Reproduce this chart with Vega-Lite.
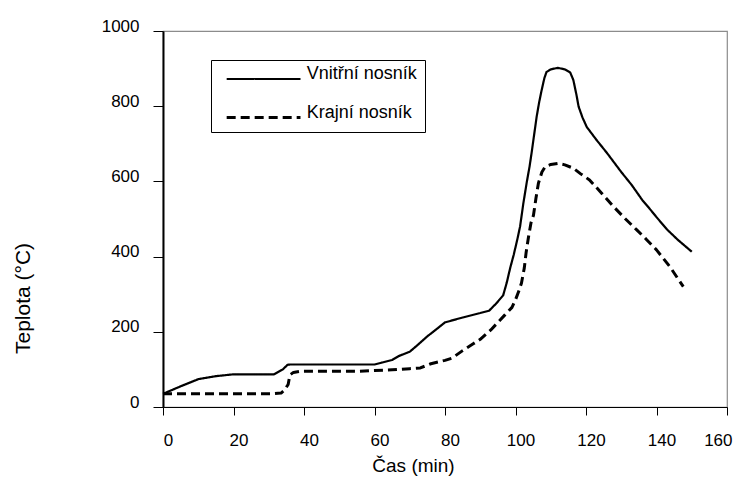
{
  "$schema": "https://vega.github.io/schema/vega-lite/v6.json",
  "width": 564,
  "height": 376,
  "autosize": {"type": "none"},
  "padding": {"left": 163, "top": 31, "right": 12, "bottom": 77},
  "background": "white",
  "config": {
    "font": "Liberation Sans",
    "view": {"stroke": "#8c8c8c", "strokeWidth": 1.2},
    "axis": {"grid": false, "domainColor": "black", "tickColor": "black", "labelColor": "black", "titleColor": "black", "labelFont": "Liberation Sans", "titleFont": "Liberation Sans", "titleFontWeight": "normal", "labelFontSize": 17}
  },
  "data": {
    "values": [
      {"t": 0, "T": 35, "s": "Vnitřní nosník"},
      {"t": 5, "T": 55, "s": "Vnitřní nosník"},
      {"t": 10, "T": 74, "s": "Vnitřní nosník"},
      {"t": 15, "T": 82, "s": "Vnitřní nosník"},
      {"t": 20, "T": 87, "s": "Vnitřní nosník"},
      {"t": 25, "T": 87, "s": "Vnitřní nosník"},
      {"t": 31.5, "T": 87, "s": "Vnitřní nosník"},
      {"t": 34, "T": 100, "s": "Vnitřní nosník"},
      {"t": 35.3, "T": 112, "s": "Vnitřní nosník"},
      {"t": 36, "T": 113, "s": "Vnitřní nosník"},
      {"t": 40, "T": 113, "s": "Vnitřní nosník"},
      {"t": 50, "T": 113, "s": "Vnitřní nosník"},
      {"t": 60, "T": 113, "s": "Vnitřní nosník"},
      {"t": 62, "T": 118, "s": "Vnitřní nosník"},
      {"t": 65, "T": 125, "s": "Vnitřní nosník"},
      {"t": 67, "T": 136, "s": "Vnitřní nosník"},
      {"t": 70, "T": 147, "s": "Vnitřní nosník"},
      {"t": 72, "T": 163, "s": "Vnitřní nosník"},
      {"t": 75, "T": 188, "s": "Vnitřní nosník"},
      {"t": 78, "T": 210, "s": "Vnitřní nosník"},
      {"t": 80, "T": 225, "s": "Vnitřní nosník"},
      {"t": 85, "T": 238, "s": "Vnitřní nosník"},
      {"t": 90, "T": 250, "s": "Vnitřní nosník"},
      {"t": 92.5, "T": 256, "s": "Vnitřní nosník"},
      {"t": 94.5, "T": 275, "s": "Vnitřní nosník"},
      {"t": 96.5, "T": 297, "s": "Vnitřní nosník"},
      {"t": 97.5, "T": 330, "s": "Vnitřní nosník"},
      {"t": 98.5, "T": 370, "s": "Vnitřní nosník"},
      {"t": 99.5, "T": 405, "s": "Vnitřní nosník"},
      {"t": 100.5, "T": 445, "s": "Vnitřní nosník"},
      {"t": 101.3, "T": 480, "s": "Vnitřní nosník"},
      {"t": 102.2, "T": 540, "s": "Vnitřní nosník"},
      {"t": 103.2, "T": 598, "s": "Vnitřní nosník"},
      {"t": 104, "T": 640, "s": "Vnitřní nosník"},
      {"t": 104.6, "T": 678, "s": "Vnitřní nosník"},
      {"t": 105.3, "T": 725, "s": "Vnitřní nosník"},
      {"t": 106, "T": 772, "s": "Vnitřní nosník"},
      {"t": 106.7, "T": 810, "s": "Vnitřní nosník"},
      {"t": 107.4, "T": 842, "s": "Vnitřní nosník"},
      {"t": 108.2, "T": 875, "s": "Vnitřní nosník"},
      {"t": 108.8, "T": 891, "s": "Vnitřní nosník"},
      {"t": 110, "T": 898, "s": "Vnitřní nosník"},
      {"t": 112, "T": 902, "s": "Vnitřní nosník"},
      {"t": 114, "T": 898, "s": "Vnitřní nosník"},
      {"t": 115.5, "T": 890, "s": "Vnitřní nosník"},
      {"t": 116.4, "T": 870, "s": "Vnitřní nosník"},
      {"t": 117.3, "T": 830, "s": "Vnitřní nosník"},
      {"t": 117.9, "T": 799, "s": "Vnitřní nosník"},
      {"t": 119, "T": 770, "s": "Vnitřní nosník"},
      {"t": 120.2, "T": 745, "s": "Vnitřní nosník"},
      {"t": 123, "T": 710, "s": "Vnitřní nosník"},
      {"t": 126, "T": 675, "s": "Vnitřní nosník"},
      {"t": 128, "T": 650, "s": "Vnitřní nosník"},
      {"t": 130, "T": 625, "s": "Vnitřní nosník"},
      {"t": 133, "T": 590, "s": "Vnitřní nosník"},
      {"t": 136, "T": 550, "s": "Vnitřní nosník"},
      {"t": 138, "T": 528, "s": "Vnitřní nosník"},
      {"t": 140, "T": 505, "s": "Vnitřní nosník"},
      {"t": 143, "T": 472, "s": "Vnitřní nosník"},
      {"t": 146, "T": 445, "s": "Vnitřní nosník"},
      {"t": 150, "T": 413, "s": "Vnitřní nosník"},
      {"t": 0, "T": 35, "s": "Krajní nosník"},
      {"t": 10, "T": 35, "s": "Krajní nosník"},
      {"t": 20, "T": 35, "s": "Krajní nosník"},
      {"t": 31, "T": 35, "s": "Krajní nosník"},
      {"t": 33.5, "T": 37, "s": "Krajní nosník"},
      {"t": 34.5, "T": 45, "s": "Krajní nosník"},
      {"t": 35.5, "T": 60, "s": "Krajní nosník"},
      {"t": 36, "T": 85, "s": "Krajní nosník"},
      {"t": 37, "T": 92, "s": "Krajní nosník"},
      {"t": 39, "T": 95, "s": "Krajní nosník"},
      {"t": 45, "T": 95, "s": "Krajní nosník"},
      {"t": 55, "T": 95, "s": "Krajní nosník"},
      {"t": 60, "T": 97, "s": "Krajní nosník"},
      {"t": 65, "T": 99, "s": "Krajní nosník"},
      {"t": 70, "T": 102, "s": "Krajní nosník"},
      {"t": 73, "T": 104, "s": "Krajní nosník"},
      {"t": 76, "T": 115, "s": "Krajní nosník"},
      {"t": 80, "T": 124, "s": "Krajní nosník"},
      {"t": 82, "T": 130, "s": "Krajní nosník"},
      {"t": 85, "T": 150, "s": "Krajní nosník"},
      {"t": 88, "T": 168, "s": "Krajní nosník"},
      {"t": 90, "T": 180, "s": "Krajní nosník"},
      {"t": 93, "T": 205, "s": "Krajní nosník"},
      {"t": 95, "T": 225, "s": "Krajní nosník"},
      {"t": 97, "T": 245, "s": "Krajní nosník"},
      {"t": 99, "T": 265, "s": "Krajní nosník"},
      {"t": 100, "T": 285, "s": "Krajní nosník"},
      {"t": 101, "T": 310, "s": "Krajní nosník"},
      {"t": 101.7, "T": 330, "s": "Krajní nosník"},
      {"t": 102.5, "T": 370, "s": "Krajní nosník"},
      {"t": 103, "T": 410, "s": "Krajní nosník"},
      {"t": 103.7, "T": 453, "s": "Krajní nosník"},
      {"t": 104.4, "T": 490, "s": "Krajní nosník"},
      {"t": 105.1, "T": 510, "s": "Krajní nosník"},
      {"t": 105.8, "T": 555, "s": "Krajní nosník"},
      {"t": 106.5, "T": 595, "s": "Krajní nosník"},
      {"t": 107.5, "T": 625, "s": "Krajní nosník"},
      {"t": 108.4, "T": 639, "s": "Krajní nosník"},
      {"t": 110, "T": 645, "s": "Krajní nosník"},
      {"t": 112, "T": 648, "s": "Krajní nosník"},
      {"t": 114, "T": 644, "s": "Krajní nosník"},
      {"t": 116.4, "T": 635, "s": "Krajní nosník"},
      {"t": 118.5, "T": 620, "s": "Krajní nosník"},
      {"t": 121, "T": 604, "s": "Krajní nosník"},
      {"t": 124.5, "T": 568, "s": "Krajní nosník"},
      {"t": 127.8, "T": 533, "s": "Krajní nosník"},
      {"t": 131, "T": 502, "s": "Krajní nosník"},
      {"t": 134.4, "T": 471, "s": "Krajní nosník"},
      {"t": 137, "T": 447, "s": "Krajní nosník"},
      {"t": 140, "T": 418, "s": "Krajní nosník"},
      {"t": 143.8, "T": 373, "s": "Krajní nosník"},
      {"t": 147.6, "T": 320, "s": "Krajní nosník"}
    ]
  },
  "mark": {"type": "line", "color": "black", "strokeCap": "butt", "strokeJoin": "round"},
  "encoding": {
    "x": {
      "field": "t", "type": "quantitative",
      "scale": {"domain": [0, 160], "nice": false, "zero": false},
      "axis": {"values": [0, 20, 40, 60, 80, 100, 120, 140, 160], "format": "d", "title": "Čas (min)", "titleFontSize": 19, "titleX": 250, "titleY": 58, "titleBaseline": "middle", "titleAlign": "center", "tickSize": 8, "labelPadding": 17, "labelOffset": 5, "domainWidth": 1.2, "labelFlush": false, "labelOverlap": false,
        "labelAlign": {"condition": {"test": "datum.value == 160", "value": "right"}, "value": "center"}}
    },
    "y": {
      "field": "T", "type": "quantitative",
      "scale": {"domain": [0, 1000], "nice": false},
      "axis": {"values": [0, 200, 400, 600, 800, 1000], "format": "d", "title": "Teplota (°C)", "titleFontSize": 21, "titleX": -140, "titleY": 267, "titleAngle": 270, "titleBaseline": "middle", "titleAlign": "center", "tickSize": 10, "labelPadding": 14, "labelOffset": -5, "domainWidth": 2, "labelFlush": false, "labelOverlap": false}
    },
    "strokeDash": {
      "field": "s", "type": "nominal",
      "scale": {"domain": ["Vnitřní nosník", "Krajní nosník"], "range": [[1, 0], [9, 5]]},
      "legend": {
        "orient": "none", "legendX": 48, "legendY": 29, "title": null,
        "symbolType": "M-0.35,0H7.42", "symbolSize": 361, "symbolStrokeWidth": 2.5,
        "symbolStrokeColor": "black", "symbolFillColor": "transparent",
        "labelFont": "Liberation Sans", "labelFontSize": 18, "labelColor": "black",
        "labelOffset": 65.7, "labelBaseline": "alphabetic",
        "labelExpr": "datum.label + '           '",
        "padding": 8, "rowPadding": 19.5,
        "strokeColor": "black", "fillColor": "white"
      }
    },
    "strokeWidth": {
      "field": "s", "type": "nominal",
      "scale": {"domain": ["Vnitřní nosník", "Krajní nosník"], "range": [2.2, 3]},
      "legend": null
    }
  }
}
